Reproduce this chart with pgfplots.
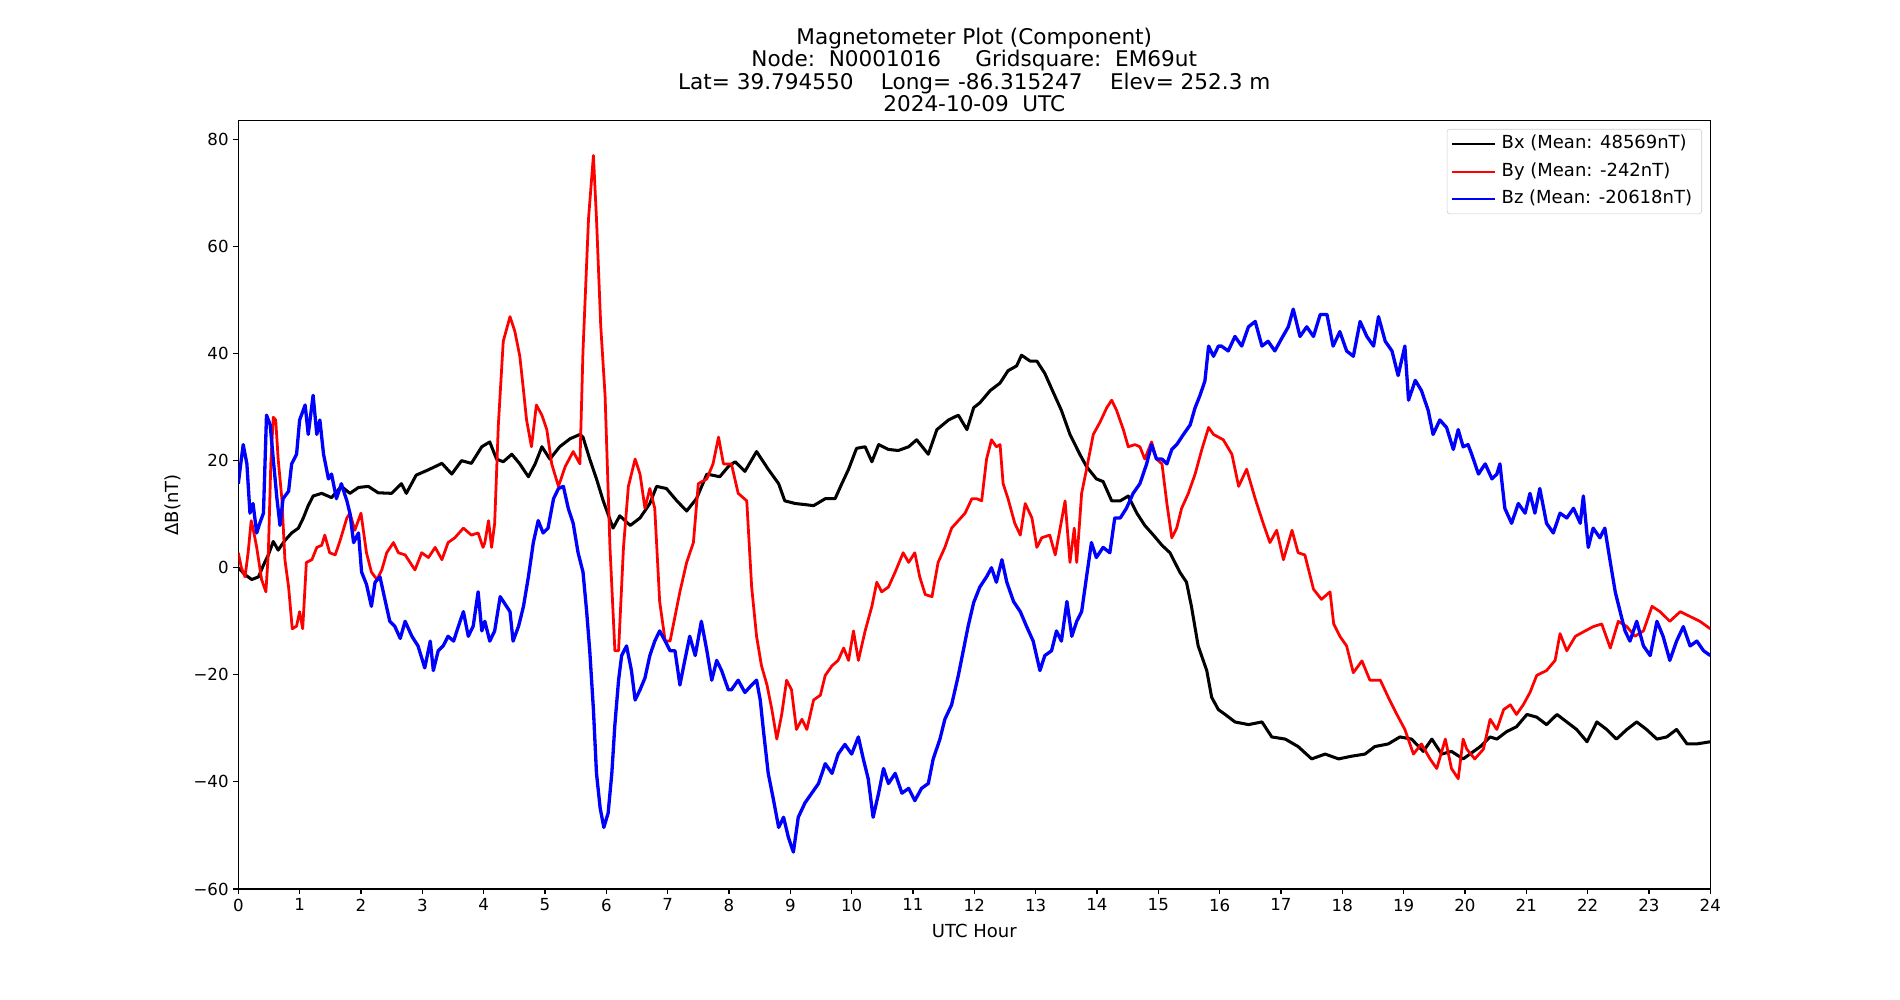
\documentclass[border=0pt]{standalone}
\usepackage{fontspec}
\setmainfont{DejaVu Sans}
\usepackage{pgfplots}
\pgfplotsset{compat=1.18}
\pgfplotstableset{col sep=space}
\begin{document}
\begin{tikzpicture}
\path[use as bounding box] (0,0) rectangle (19in,10in);
\begin{axis}[
  at={(2.383in,1.11in)}, anchor=south west,
  scale only axis, width=14.72in, height=7.683in,
  xmin=0, xmax=24, ymin=-60, ymax=83.5,
  xtick={0,1,...,24},
  ytick={-60,-40,-20,0,20,40,60,80},
  yticklabels={−60,−40,−20,0,20,40,60,80},
  /pgf/number format/assume math mode=true,
  tick align=outside, tick pos=left,
  major tick length=3.5pt,
  every tick/.style={black, line width=0.8pt},
  axis line style={line width=0.8pt},
  ticklabel style={font=\fontsize{12}{14.4}\selectfont},
  xlabel={UTC Hour},
  ylabel={ΔB(nT)},
  xlabel style={at={(axis description cs:0.5,-0.0547)}, anchor=center, font=\fontsize{13}{15.6}\selectfont},
  ylabel style={at={(axis description cs:-0.0444,0.5)}, anchor=center, font=\fontsize{13}{15.6}\selectfont},
  title={Magnetometer Plot (Component)\\Node:~~N0001016~~~~~Gridsquare:~~EM69ut\\Lat=~39.794550~~~~Long=~-86.315247~~~~Elev=~252.3~m\\2024-10-09~~UTC},
  title style={at={(axis description cs:0.5,1)}, anchor=south, align=center, inner sep=0pt, yshift=0pt, font=\fontsize{15.6}{16.2}\selectfont},
  legend style={at={(axis description cs:1,1)}, anchor=north east, xshift=-6pt, yshift=-6pt,
    draw=black!20, rounded corners=2pt, fill=white, fill opacity=0.8, text opacity=1,
    font=\fontsize{13}{15.6}\selectfont, inner sep=3pt, row sep=4.6pt,
    nodes={text height=9.5pt, text depth=2.8pt, inner ysep=1.5pt, inner xsep=4pt}},
  legend cell align=left,
  legend image code/.code={\draw[#1, line width=1.5pt] (0pt,0pt) -- (31pt,0pt);},
]
\addplot[black, line width=2.2pt, line join=round] table {
0 0
0.11 -1.3
0.22 -2.2
0.33 -1.7
0.41 0.5
0.49 2.4
0.57 4.9
0.65 3.3
0.76 5.1
0.87 6.5
0.98 7.4
1.06 9.3
1.14 11.6
1.22 13.4
1.36 13.9
1.52 13.1
1.68 15.2
1.82 13.9
1.96 15.0
2.12 15.2
2.28 14.0
2.5 13.9
2.66 15.7
2.74 13.9
2.9 17.3
3.1 18.3
3.32 19.5
3.48 17.5
3.64 20.0
3.8 19.5
3.97 22.6
4.1 23.5
4.21 20.3
4.32 19.8
4.46 21.2
4.59 19.4
4.73 17.0
4.84 19.4
4.95 22.6
5.08 20.3
5.24 22.6
5.41 24.1
5.57 24.9
5.62 24.4
5.73 20.3
5.84 16.6
5.95 12.5
6.11 7.4
6.22 9.7
6.39 7.9
6.55 9.3
6.71 12.0
6.82 15.2
6.98 14.8
7.15 12.5
7.31 10.6
7.47 12.9
7.64 17.5
7.85 17.0
7.99 18.9
8.1 19.8
8.26 18.0
8.45 21.7
8.64 18.4
8.81 15.7
8.91 12.5
9.08 12.0
9.24 11.8
9.38 11.6
9.57 12.9
9.73 12.9
9.84 15.7
9.95 18.4
10.08 22.3
10.22 22.6
10.33 19.8
10.44 23.0
10.6 22.1
10.76 21.9
10.93 22.6
11.06 23.9
11.25 21.2
11.39 25.8
11.58 27.6
11.74 28.5
11.88 25.8
11.99 29.9
12.09 30.8
12.26 33.1
12.42 34.5
12.55 36.8
12.69 37.7
12.77 39.7
12.91 38.6
13.02 38.6
13.15 36.3
13.29 32.7
13.42 29.4
13.56 24.9
13.72 21.2
13.83 18.9
13.99 16.6
14.1 16.1
14.24 12.5
14.38 12.5
14.51 13.4
14.65 10.2
14.78 7.9
14.92 6.1
15.06 4.2
15.19 2.8
15.35 -0.8
15.46 -2.7
15.54 -7.2
15.65 -14.6
15.79 -19.2
15.87 -24.2
15.98 -26.5
16.09 -27.4
16.25 -28.8
16.47 -29.3
16.69 -28.8
16.85 -31.6
17.07 -32.0
17.28 -33.4
17.5 -35.7
17.72 -34.8
17.94 -35.7
18.15 -35.2
18.37 -34.8
18.53 -33.4
18.75 -32.9
18.94 -31.6
19.13 -32.0
19.32 -34.3
19.46 -32.0
19.62 -34.8
19.78 -34.3
19.97 -35.7
20.08 -34.8
20.25 -33.4
20.41 -31.6
20.52 -32.0
20.68 -30.6
20.84 -29.7
21.01 -27.4
21.17 -27.9
21.33 -29.3
21.5 -27.4
21.66 -28.8
21.82 -30.2
21.99 -32.5
22.15 -28.8
22.31 -30.2
22.47 -32.0
22.64 -30.2
22.8 -28.8
22.96 -30.2
23.13 -32.0
23.29 -31.6
23.45 -30.2
23.62 -32.9
23.78 -32.9
24.0 -32.5
};
\addlegendentry{Bx (Mean: 48569nT)}
\addplot[red, line width=2.0pt, line join=round] table {
0 2.8
0.05 0
0.11 -1.7
0.16 2.8
0.21 8.8
0.24 7.4
0.3 3.8
0.38 -2.2
0.45 -4.5
0.49 2.8
0.53 19.4
0.57 28.1
0.61 27.6
0.65 20.3
0.71 12.9
0.76 1.5
0.82 -3.6
0.88 -11.4
0.95 -10.9
1.0 -8.2
1.05 -11.4
1.11 1.0
1.2 1.5
1.28 3.8
1.36 4.2
1.41 6.1
1.49 2.8
1.58 2.4
1.66 5.1
1.77 9.3
1.82 10.2
1.9 7.0
2.0 10.2
2.09 2.8
2.17 -0.8
2.26 -2.2
2.34 -0.4
2.42 2.8
2.53 4.7
2.61 2.8
2.72 2.4
2.88 -0.4
2.99 2.8
3.1 1.9
3.21 3.8
3.32 1.5
3.42 4.7
3.53 5.6
3.67 7.4
3.8 6.1
3.91 6.5
3.99 3.8
4.02 4.7
4.08 8.8
4.13 3.8
4.18 8.3
4.24 26.7
4.32 42.3
4.43 46.9
4.51 44.1
4.59 39.5
4.65 33.1
4.7 27.6
4.78 22.6
4.86 30.4
4.95 28.5
5.03 25.8
5.11 19.4
5.22 15.2
5.33 18.9
5.46 21.7
5.57 19.4
5.62 40.5
5.71 65.2
5.79 77.0
5.84 65.2
5.91 45.0
5.98 32.2
6.06 3.8
6.14 -15.5
6.2 -15.5
6.28 3.8
6.36 15.2
6.47 20.3
6.55 17.5
6.63 11.1
6.71 14.8
6.79 11.1
6.87 -6.3
6.96 -13.7
7.04 -13.7
7.12 -9.1
7.2 -4.5
7.31 1.0
7.42 4.7
7.5 15.7
7.64 16.6
7.74 19.4
7.83 24.4
7.91 19.4
8.04 19.4
8.15 13.9
8.29 12.5
8.37 -3.6
8.45 -12.8
8.53 -18.3
8.62 -21.9
8.7 -26.5
8.78 -32.0
8.86 -27.4
8.94 -21.0
9.02 -22.8
9.1 -30.2
9.19 -28.3
9.27 -30.2
9.38 -24.7
9.49 -23.8
9.57 -20.1
9.68 -18.3
9.78 -17.3
9.87 -15.0
9.95 -17.3
10.03 -11.8
10.11 -17.3
10.22 -11.8
10.33 -7.2
10.41 -2.7
10.49 -4.5
10.6 -3.6
10.71 -0.8
10.84 2.8
10.93 1.0
11.03 2.8
11.11 -1.7
11.2 -5.0
11.31 -5.4
11.41 1.0
11.52 3.8
11.63 7.4
11.74 8.8
11.85 10.2
11.96 12.9
12.04 12.9
12.12 12.5
12.2 20.3
12.28 23.9
12.36 22.6
12.42 23.0
12.47 15.7
12.55 12.9
12.66 8.3
12.75 6.1
12.83 12.0
12.94 9.3
13.02 3.8
13.1 5.6
13.23 6.1
13.32 2.4
13.4 7.4
13.48 12.5
13.56 1.0
13.63 7.4
13.67 1.0
13.75 13.9
13.83 18.4
13.94 24.9
14.05 27.2
14.16 29.9
14.24 31.3
14.32 29.4
14.43 25.8
14.51 22.6
14.62 23.0
14.7 22.6
14.78 20.3
14.89 23.5
14.97 20.3
15.06 19.4
15.14 12.0
15.22 5.6
15.3 7.4
15.38 11.1
15.49 13.9
15.6 17.5
15.71 22.1
15.82 26.2
15.9 24.9
16.06 23.9
16.2 21.2
16.31 15.2
16.44 18.4
16.58 12.9
16.71 8.3
16.82 4.7
16.93 7.0
17.04 1.5
17.18 7.0
17.28 2.8
17.39 2.4
17.53 -4.0
17.66 -5.9
17.8 -4.5
17.86 -10.5
17.96 -12.8
18.07 -14.6
18.18 -19.6
18.32 -17.4
18.45 -21.0
18.62 -21.0
18.75 -24.2
18.89 -27.4
19.02 -30.2
19.16 -34.8
19.29 -32.9
19.43 -35.7
19.54 -37.5
19.68 -32.0
19.78 -37.5
19.89 -39.4
19.97 -32.0
20.03 -33.9
20.16 -35.7
20.3 -33.9
20.41 -28.3
20.52 -30.2
20.63 -26.5
20.74 -25.6
20.84 -27.4
20.95 -25.6
21.06 -23.3
21.17 -20.1
21.33 -19.2
21.47 -17.3
21.55 -12.3
21.66 -15.5
21.8 -12.8
21.96 -11.8
22.09 -11.0
22.23 -10.5
22.37 -15.0
22.5 -10.0
22.64 -11.0
22.77 -12.8
22.91 -11.8
23.05 -7.2
23.18 -8.2
23.34 -10.0
23.51 -8.2
23.67 -9.1
23.83 -10.0
24.0 -11.4
};
\addlegendentry{By (Mean: -242nT)}
\addplot[blue, line width=2.4pt, line join=round] table {
0 15.7
0.04 19.4
0.08 23.0
0.14 19.4
0.19 10.2
0.24 12.0
0.3 6.5
0.35 8.3
0.41 10.2
0.46 28.5
0.52 26.7
0.57 20.3
0.63 12.9
0.68 7.9
0.73 12.9
0.82 14.3
0.87 19.4
0.95 21.2
1.0 27.6
1.09 30.4
1.14 24.9
1.22 32.2
1.28 24.9
1.33 27.6
1.39 21.2
1.47 16.6
1.52 17.5
1.6 12.9
1.68 15.7
1.77 12.5
1.82 10.2
1.88 4.7
1.96 6.5
2.01 -0.8
2.09 -3.1
2.17 -7.2
2.23 -2.7
2.31 -1.7
2.39 -5.9
2.47 -10.0
2.55 -10.9
2.64 -13.2
2.72 -10.0
2.83 -12.8
2.93 -14.6
3.04 -18.7
3.13 -13.7
3.18 -19.2
3.26 -15.5
3.34 -14.6
3.42 -12.8
3.51 -13.7
3.59 -10.9
3.67 -8.2
3.75 -12.8
3.83 -10.9
3.91 -4.5
3.97 -11.8
4.02 -10.0
4.1 -13.7
4.18 -11.8
4.27 -5.4
4.35 -6.8
4.43 -8.2
4.48 -13.7
4.57 -10.9
4.65 -7.2
4.73 -1.7
4.81 4.7
4.89 8.8
4.97 6.5
5.05 7.4
5.14 12.9
5.22 14.8
5.3 15.2
5.38 11.1
5.46 8.3
5.54 2.8
5.62 -0.8
5.68 -8.2
5.73 -15.5
5.79 -26.5
5.84 -38.4
5.9 -44.9
5.96 -48.5
6.03 -45.8
6.09 -38.4
6.14 -29.3
6.2 -21.0
6.25 -16.4
6.33 -14.6
6.41 -19.2
6.47 -24.7
6.55 -22.8
6.63 -20.6
6.71 -16.4
6.79 -13.7
6.87 -11.8
6.96 -13.7
7.04 -15.5
7.12 -15.5
7.2 -21.9
7.28 -17.3
7.36 -12.8
7.45 -16.4
7.55 -10.0
7.64 -15.5
7.72 -21.0
7.8 -17.3
7.88 -19.2
7.99 -22.8
8.04 -22.8
8.15 -21.0
8.26 -23.3
8.37 -21.9
8.45 -21.0
8.51 -24.7
8.56 -30.2
8.64 -38.4
8.72 -43.0
8.81 -48.5
8.89 -46.6
8.97 -50.4
9.05 -53.1
9.13 -46.6
9.24 -43.9
9.35 -42.1
9.46 -40.3
9.57 -36.6
9.68 -38.4
9.78 -34.8
9.89 -33.0
10.0 -34.8
10.11 -31.6
10.19 -35.7
10.27 -39.4
10.35 -46.6
10.44 -42.1
10.52 -37.5
10.6 -40.3
10.71 -38.4
10.82 -42.1
10.93 -41.2
11.03 -43.5
11.14 -41.2
11.25 -40.3
11.33 -35.7
11.44 -32.0
11.52 -28.3
11.63 -25.6
11.74 -20.1
11.82 -15.5
11.9 -10.9
11.99 -6.5
12.09 -3.6
12.2 -1.7
12.28 0
12.36 -2.7
12.45 1.5
12.53 -2.7
12.64 -6.3
12.75 -8.2
12.85 -10.9
12.96 -13.7
13.07 -19.2
13.15 -16.4
13.26 -15.5
13.34 -11.8
13.42 -13.7
13.51 -6.3
13.59 -12.8
13.67 -10.0
13.75 -8.2
13.83 -1.7
13.91 4.7
13.99 1.9
14.1 3.8
14.21 2.8
14.29 9.3
14.38 9.3
14.48 11.1
14.59 13.9
14.7 15.7
14.81 19.4
14.89 23.0
14.97 20.3
15.06 20.3
15.14 19.4
15.22 22.1
15.3 23.0
15.41 24.9
15.52 26.7
15.6 29.9
15.68 32.2
15.76 34.9
15.82 41.4
15.9 39.5
15.98 41.4
16.03 41.4
16.14 40.5
16.25 43.2
16.36 41.4
16.47 45.0
16.58 46.0
16.69 41.4
16.79 42.3
16.9 40.5
17.01 42.8
17.12 45.0
17.2 48.3
17.31 43.2
17.42 45.0
17.53 43.2
17.64 47.3
17.75 47.3
17.85 41.4
17.96 44.1
18.07 40.5
18.18 39.5
18.29 46.0
18.4 43.2
18.51 41.4
18.59 46.9
18.7 42.3
18.81 40.5
18.91 35.9
19.02 41.4
19.08 31.3
19.19 35.0
19.29 33.1
19.4 29.4
19.48 24.9
19.59 27.6
19.7 26.2
19.81 22.1
19.89 25.8
19.97 22.6
20.05 23.0
20.11 21.2
20.22 17.5
20.33 19.4
20.44 16.6
20.52 17.5
20.57 19.4
20.65 11.1
20.76 8.3
20.87 12.0
20.98 10.2
21.06 13.9
21.14 10.2
21.22 14.8
21.33 8.3
21.44 6.5
21.55 10.2
21.66 9.3
21.77 11.1
21.88 8.3
21.93 13.4
22.01 3.8
22.09 7.4
22.2 5.6
22.28 7.4
22.37 1.0
22.45 -4.5
22.53 -8.2
22.61 -11.8
22.69 -13.7
22.8 -10.0
22.91 -14.6
23.02 -16.4
23.13 -10.0
23.23 -12.8
23.34 -17.3
23.45 -13.7
23.56 -11.0
23.67 -14.6
23.78 -13.7
23.89 -15.5
24.0 -16.4
};
\addlegendentry{Bz (Mean: -20618nT)}
\end{axis}
\end{tikzpicture}
\end{document}
